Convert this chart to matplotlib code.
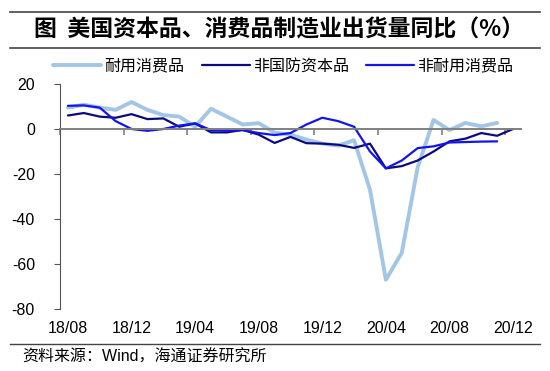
import matplotlib
matplotlib.use("Agg")
import matplotlib.pyplot as plt
import matplotlib.transforms as mtransforms
from matplotlib.lines import Line2D

plt.rcParams['font.family'] = ['Liberation Sans', 'Noto Sans CJK SC']

# monthly data, 18/08 .. 20/12
months = ['18/08', '18/09', '18/10', '18/11', '18/12', '19/01', '19/02', '19/03',
          '19/04', '19/05', '19/06', '19/07', '19/08', '19/09', '19/10', '19/11',
          '19/12', '20/01', '20/02', '20/03', '20/04', '20/05', '20/06', '20/07',
          '20/08', '20/09', '20/10', '20/11', '20/12']

durable = [9.5, 10.8, 9.5, 8.5, 12.0, 8.5, 6.2, 5.5, 1.0, 9.0, 5.5, 2.0, 2.6, -1.6,
           -2.5, -4.7, -6.5, -7.4, -5.0, -27.0, -67.0, -55.0, -17.0, 4.0, -0.5,
           2.7, 1.2, 2.7]
capital = [6.0, 7.1, 5.5, 5.0, 6.6, 4.4, 4.7, 1.0, 2.5, -1.5, -1.5, -0.4, -2.5, -6.2,
           -3.5, -6.3, -6.5, -7.0, -8.4, -6.5, -17.5, -16.5, -14.0, -10.0, -5.5,
           -4.3, -1.8, -3.0, 0.0]
nondurable = [10.3, 10.5, 9.5, 3.5, 0.0, -0.8, 0.0, 1.5, 2.5, -0.5, -0.8, -0.5, -1.8,
              -2.7, -1.8, 2.0, 5.0, 3.5, 1.0, -10.0, -17.5, -14.0, -8.5, -7.7, -6.0,
              -5.8, -5.6, -5.5]

names = ['耐用消费品', '非国防资本品', '非耐用消费品']
colors = ['#A3C6E8', '#0B0B7E', '#1414EE']
widths = [2.8, 1.6, 1.6]
yticks = [20, 0, -20, -40, -60, -80]

fig = plt.figure(figsize=(5.5, 3.71), dpi=100)
ax = fig.add_axes([60 / 550, 62 / 371, 461 / 550, 225 / 371])

series = [durable, capital, nondurable]
handles = []
for vals, name, c, w in zip(series, names, colors, widths):
    ln, = ax.plot(range(len(vals)), vals, color=c, lw=w, label=name,
                  solid_joinstyle='round', solid_capstyle='round')
    handles.append(ln)

ax.set_xlim(-0.5, len(months) - 0.5)
ax.set_ylim(-80, 20)
ax.set_yticks(yticks)
ax.set_yticklabels([str(v) for v in yticks], fontsize=11.5)
ax.tick_params(axis='y', length=4, width=0.8, color='#555555', pad=14)

for s in ['top', 'right']:
    ax.spines[s].set_visible(False)
ax.spines['left'].set_color('#555555')
ax.spines['left'].set_linewidth(0.8)
ax.spines['bottom'].set_position(('data', 0))
ax.spines['bottom'].set_color('#808080')
ax.spines['bottom'].set_linewidth(1.4)
ax.set_xticks([i - 0.5 for i in range(0, len(months), 4)])
ax.set_xticklabels([])
ax.tick_params(axis='x', length=4, width=1.2, color='#808080', direction='out')

trans = mtransforms.blended_transform_factory(ax.transData, ax.transAxes)
for i in range(0, len(months), 4):
    ax.text(i, -0.085, months[i], transform=trans, ha='center', va='center',
            fontsize=11.5)

leg = fig.legend(handles=handles, loc='center', bbox_to_anchor=(0.515, 1 - 66 / 371),
                 ncol=3, frameon=False, fontsize=11.5, handlelength=3.0,
                 handletextpad=0.2, columnspacing=1.1)

# title block with rules
fig.add_artist(Line2D([10 / 550, 540 / 550], [1 - 12 / 371] * 2, color='#444444', lw=1.2))
fig.add_artist(Line2D([10 / 550, 540 / 550], [1 - 48 / 371] * 2, color='#444444', lw=1.2))
fig.text(0.508, 1 - 30 / 371, '图  美国资本品、消费品制造业出货量同比（%）',
         ha='center', va='center', fontsize=16.5, fontweight='bold',
         family=['Noto Sans CJK SC'])

fig.add_artist(Line2D([10 / 550, 540 / 550], [1 - 344 / 371] * 2, color='#444444', lw=1.0))
fig.text(22 / 550, 1 - 357 / 371, '资料来源：Wind，海通证券研究所', ha='left', va='center',
         fontsize=11.5)

fig.savefig('out.png', dpi=100)
